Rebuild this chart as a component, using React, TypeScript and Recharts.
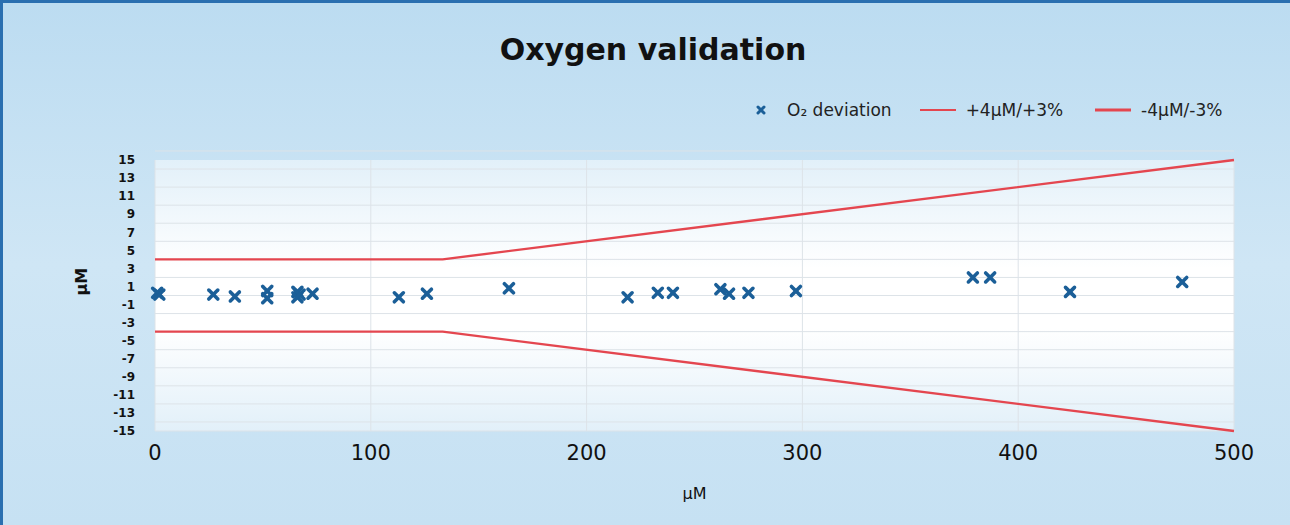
import { ScatterChart, Scatter, XAxis, YAxis, CartesianGrid } from 'recharts';

// O2 deviation measurements (reference µM, deviation µM)
const refConc = [1, 2, 27, 37, 52, 52, 66, 66, 67, 73, 113, 126, 164, 219, 233, 240, 262, 266, 275, 297, 379, 387, 424, 476];
const deviation = [0.3, 0.1, 0.1, -0.1, 0.5, -0.3, 0.4, -0.2, 0.1, 0.2, -0.2, 0.2, 0.8, -0.2, 0.3, 0.3, 0.7, 0.2, 0.3, 0.5, 2.0, 2.0, 0.4, 1.5];

// tolerance envelope: ±4 µM, or ±3 % above 133 µM
const limitX = [0, 133.3, 500];
const upperLimit = [4, 4, 15];
const lowerLimit = [-4, -4, -15];

const yTicks = [-15, -13, -11, -9, -7, -5, -3, -1, 1, 3, 5, 7, 9, 11, 13, 15];
const xTicks = [0, 100, 200, 300, 400, 500];

const points = refConc.map((x, i) => ({ x, y: deviation[i] }));
const upper = limitX.map((x, i) => ({ x, y: upperLimit[i] }));
const lower = limitX.map((x, i) => ({ x, y: lowerLimit[i] }));

const BLUE = '#1b5f98';
const RED = '#e4464f';
const FONT = 'Tahoma, "DejaVu Sans", sans-serif';

const Cross = (props: any) => {
  const { cx, cy } = props;
  const s = 4.5;
  return (
    <g stroke={BLUE} strokeWidth={3.6} strokeLinecap="round">
      <line x1={cx - s} y1={cy - s} x2={cx + s} y2={cy + s} />
      <line x1={cx - s} y1={cy + s} x2={cx + s} y2={cy - s} />
    </g>
  );
};

const LegendBox = () => (
  <div style={{ display: 'flex', alignItems: 'center', fontFamily: FONT, fontSize: 17, color: '#222' }}>
    <svg width={12} height={12} style={{ marginRight: 20 }}>
      <g stroke={BLUE} strokeWidth={3} strokeLinecap="round">
        <line x1={3} y1={3} x2={9} y2={9} />
        <line x1={3} y1={9} x2={9} y2={3} />
      </g>
    </svg>
    <span style={{ marginRight: 28 }}>O₂ deviation</span>
    <svg width={36} height={6} style={{ marginRight: 10 }}>
      <line x1={0} y1={3} x2={36} y2={3} stroke={RED} strokeWidth={2} />
    </svg>
    <span style={{ marginRight: 32 }}>+4µM/+3%</span>
    <svg width={36} height={6} style={{ marginRight: 10 }}>
      <line x1={0} y1={3} x2={36} y2={3} stroke={RED} strokeWidth={3} />
    </svg>
    <span>-4µM/-3%</span>
  </div>
);

export default function App() {
  return (
    <div
      style={{
        position: 'absolute',
        left: 0,
        top: 0,
        width: 1290,
        height: 525,
        background: 'linear-gradient(180deg, #bcdcf1 0%, #cfe6f5 50%, #c6e1f3 100%)',
        borderTop: '3px solid #2a6fb0',
        borderLeft: '3px solid #2a6fb0',
        boxSizing: 'border-box',
        overflow: 'hidden',
      }}
    >
      <div
        style={{
          position: 'absolute',
          top: 29,
          left: 0,
          width: 1300,
          textAlign: 'center',
          fontFamily: FONT,
          fontWeight: 'bold',
          fontSize: 30,
          color: '#111',
        }}
      >
        Oxygen validation
      </div>
      <div style={{ position: 'absolute', top: 97, left: 752 }}>
        <LegendBox />
      </div>
      <ScatterChart width={1287} height={522} margin={{ top: 157, right: 56, bottom: 54, left: 89 }}>
        <defs>
          <linearGradient id="plotBg" x1="0" y1="0" x2="0" y2="1">
            <stop offset="0%" stopColor="#e2f0f9" />
            <stop offset="40%" stopColor="#ffffff" />
            <stop offset="62%" stopColor="#ffffff" />
            <stop offset="100%" stopColor="#e2f0f9" />
          </linearGradient>
        </defs>
        <CartesianGrid fill="url(#plotBg)" stroke="#dde3e8" horizontalValues={yTicks.map((t) => t + 1).concat([-15])} />
        <XAxis
          type="number"
          dataKey="x"
          domain={[0, 500]}
          ticks={xTicks}
          axisLine={false}
          tickLine={false}
          height={40}
          tickMargin={8}
          tick={{ fontFamily: FONT, fontSize: 21, fill: '#111' }}
          label={{ value: 'µM', position: 'insideBottom', offset: -28, fontFamily: FONT, fontSize: 16, fill: '#111' }}
        />
        <YAxis
          type="number"
          dataKey="y"
          domain={[-15, 15]}
          ticks={yTicks}
          interval={0}
          axisLine={false}
          tickLine={false}
          width={63}
          tickMargin={14}
          tick={{ fontFamily: FONT, fontSize: 12, fontWeight: 'bold', fill: '#111' }}
          label={{ value: 'µM', angle: -90, position: 'insideLeft', offset: -11, fontFamily: FONT, fontSize: 16, fontWeight: 'bold', fill: '#111' }}
        />
        <Scatter name="O₂ deviation" data={points} shape={Cross} isAnimationActive={false} />
        <Scatter name="+4µM/+3%" data={upper} line={{ stroke: RED, strokeWidth: 2.4 }} shape={() => null} isAnimationActive={false} />
        <Scatter name="-4µM/-3%" data={lower} line={{ stroke: RED, strokeWidth: 2.4 }} shape={() => null} isAnimationActive={false} />
      </ScatterChart>
    </div>
  );
}
